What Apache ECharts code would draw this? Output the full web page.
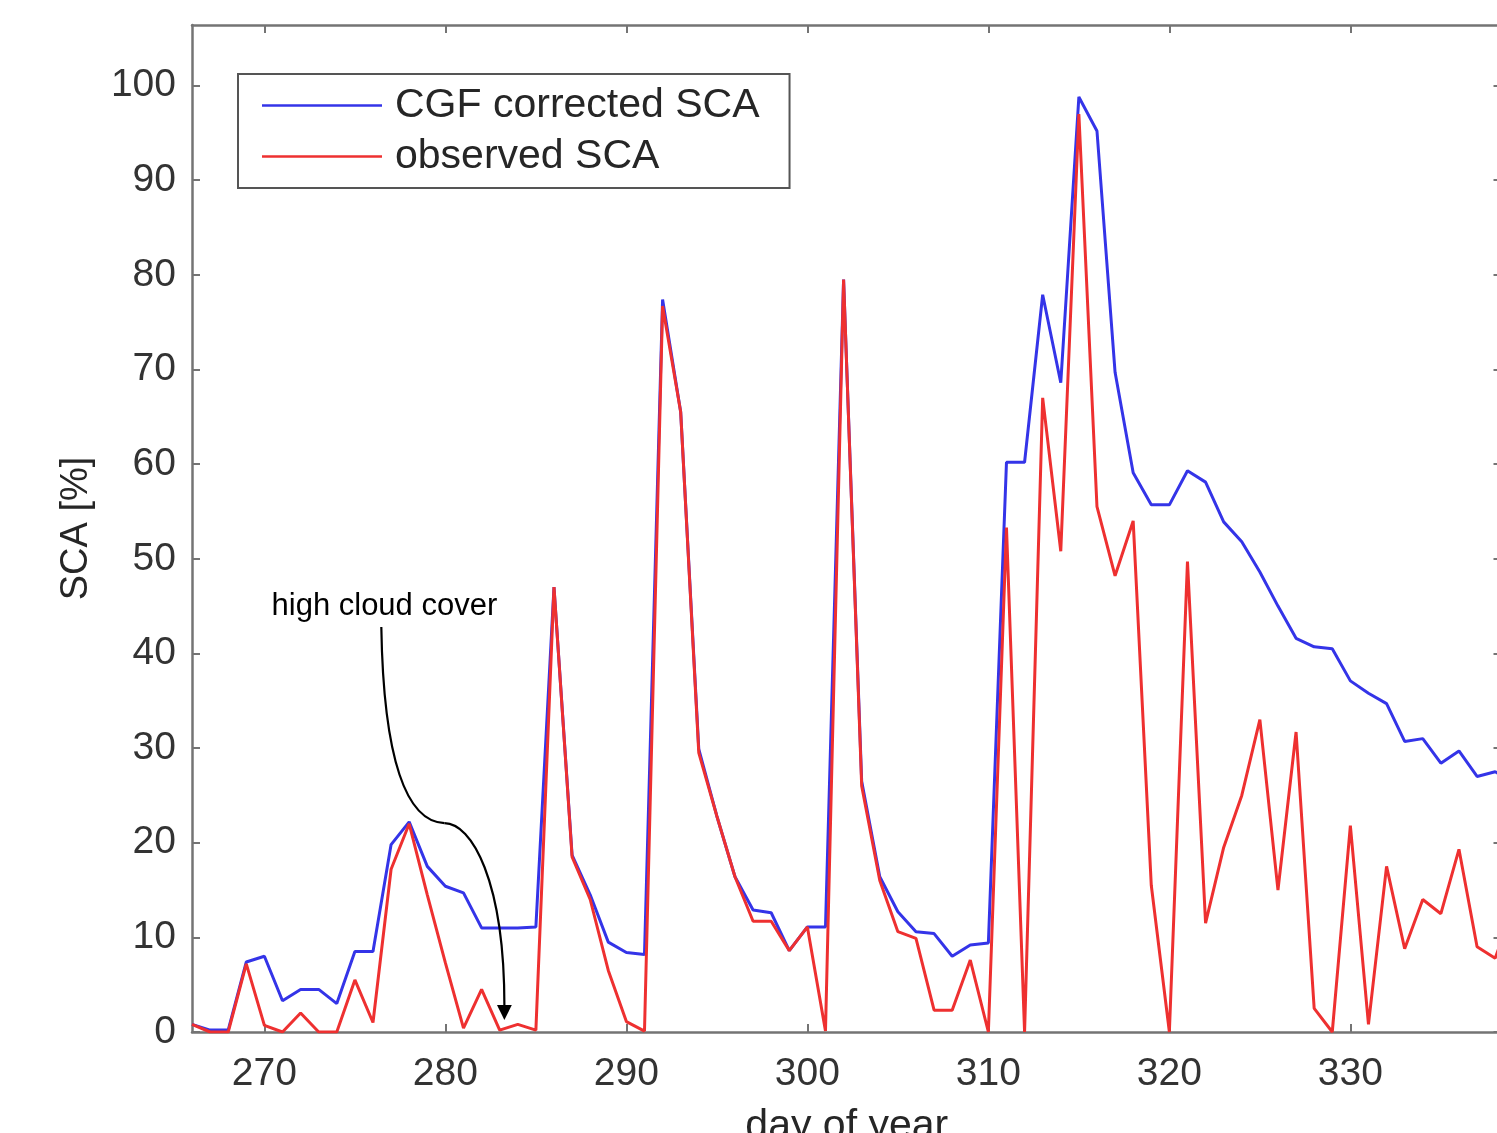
<!DOCTYPE html>
<html>
<head>
<meta charset="utf-8">
<title>SCA</title>
<script src="https://cdn.jsdelivr.net/npm/echarts@6.0.0/dist/echarts.min.js"></script>
<style>
  html, body { margin: 0; padding: 0; background: #fff; }
  #chart { width: 1497px; height: 1133px; }
</style>
</head>
<body>
<div id="chart"></div>
<script>
const days = [
  266, 267, 268, 269, 270, 271, 272, 273, 274, 275, 276, 277, 278, 279, 280, 281, 282, 283, 284, 285,
  286, 287, 288, 289, 290, 291, 292, 293, 294, 295, 296, 297, 298, 299, 300, 301, 302, 303, 304, 305,
  306, 307, 308, 309, 310, 311, 312, 313, 314, 315, 316, 317, 318, 319, 320, 321, 322, 323, 324, 325,
  326, 327, 328, 329, 330, 331, 332, 333, 334, 335, 336, 337, 338, 339
]
const cgfSca = [
  0.8, 0.2, 0.2, 7.4, 8.0, 3.3, 4.5, 4.5, 3.0, 8.5, 8.5, 19.8, 22.2, 17.5, 15.4, 14.7, 11.0, 11.0, 11.0, 11.1,
  47.0, 18.7, 14.5, 9.5, 8.4, 8.2, 77.4, 65.5, 29.9, 22.8, 16.4, 12.9, 12.6, 8.6, 11.1, 11.1, 79.5, 26.5, 16.4, 12.7,
  10.6, 10.4, 8.0, 9.2, 9.4, 60.2, 60.2, 77.9, 68.6, 98.8, 95.2, 69.7, 59.1, 55.7, 55.7, 59.3, 58.1, 53.9, 51.8, 48.6,
  45.0, 41.6, 40.7, 40.5, 37.1, 35.8, 34.7, 30.7, 31.0, 28.4, 29.7, 27.0, 27.5, 26.5
]
const observedSca = [
  0.8, 0, 0, 7.2, 0.7, 0, 2.0, 0, 0, 5.5, 1.0, 17.2, 22.0, 14.5, 7.3, 0.4, 4.5, 0.2, 0.8, 0.2,
  47.0, 18.5, 14.0, 6.5, 1.1, 0.1, 76.7, 65.5, 29.5, 22.8, 16.4, 11.7, 11.7, 8.6, 11.1, 0.1, 79.5, 26.0, 16.0, 10.6,
  9.9, 2.3, 2.3, 7.6, 0, 53.3, 0, 67.0, 50.8, 97.0, 55.5, 48.2, 54.0, 15.5, 0, 49.7, 11.5, 19.5, 25.0, 33.0,
  15.0, 31.7, 2.5, 0, 21.8, 0.8, 17.5, 8.8, 14.0, 12.5, 19.3, 9.0, 7.8, 13.0
]
const xTicks = [270, 280, 290, 300, 310, 320, 330]
const yTicks = [0, 10, 20, 30, 40, 50, 60, 70, 80, 90, 100]

// annotation, in data coordinates (day, SCA)
const noteText = 'high cloud cover'
const noteAt = [276.63, 44.92]
const arrowCurve = [
  [276.46, 42.79], [276.58, 28.74], [277.85, 22.19], [279.95, 22.08],
  [281.44, 22.08], [283.26, 16.06], [283.26, 2.75]
]
const arrowHead = [[283.26, 1.27], [282.85, 2.85], [283.67, 2.85]]

const font = 'Liberation Sans'
const axisColor = '#747474'
const blue = '#3434e8'
const red = '#ee3030'

const tickStyle = (values) => ({
  show: true, inside: true, length: 8, customValues: values,
  lineStyle: { color: axisColor, width: 2 },
})

const baseAxis = (extra) => ({
  type: 'value',
  axisLine: { show: true, onZero: false, lineStyle: { color: axisColor, width: 2.5 } },
  splitLine: { show: false },
  ...extra,
})

const chart = echarts.init(document.getElementById('chart'))

chart.setOption({
  animation: false,
  backgroundColor: '#fff',
  grid: { left: 192, top: 25, bottom: 101, width: 1309.5, outerBoundsMode: 'none', containLabel: false },
  legend: {
    data: ['CGF corrected SCA', 'observed SCA'],
    orient: 'vertical',
    left: 238,
    top: 74,
    icon: 'rect',
    itemWidth: 120,
    itemHeight: 2.5,
    itemGap: 10,
    padding: [11, 30, 11, 24],
    borderColor: '#555',
    borderWidth: 2,
    backgroundColor: '#fff',
    textStyle: { fontFamily: font, fontSize: 41, color: '#262626', lineHeight: 40, padding: [0, 0, 0, 8] },
  },
  xAxis: [
    baseAxis({
      min: 266,
      max: 338.35,
      position: 'bottom',
      name: 'day of year',
      nameLocation: 'middle',
      nameGap: 74,
      nameTextStyle: { fontFamily: font, fontSize: 41, color: '#262626' },
      axisTick: tickStyle(xTicks),
      axisLabel: { customValues: xTicks, margin: 23, fontFamily: font, fontSize: 39, color: '#333' },
    }),
    baseAxis({
      min: 266,
      max: 338.35,
      position: 'top',
      axisTick: tickStyle(xTicks),
      axisLabel: { show: false },
    }),
  ],
  yAxis: [
    baseAxis({
      min: 0,
      max: 106.4,
      position: 'left',
      name: 'SCA [%]',
      nameLocation: 'middle',
      nameGap: 96,
      nameTextStyle: { fontFamily: font, fontSize: 38, color: '#262626' },
      axisTick: tickStyle(yTicks),
      axisLabel: { customValues: yTicks, margin: 16, fontFamily: font, fontSize: 39, color: '#333' },
    }),
    baseAxis({
      min: 0,
      max: 106.4,
      position: 'right',
      axisTick: tickStyle(yTicks),
      axisLabel: { show: false },
    }),
  ],
  series: [
    {
      name: 'CGF corrected SCA',
      type: 'line',
      symbol: 'none',
      clip: true,
      lineStyle: { color: blue, width: 3 },
      itemStyle: { color: blue },
      data: days.map((d, i) => [d, cgfSca[i]]),
    },
    {
      name: 'observed SCA',
      type: 'line',
      symbol: 'none',
      clip: true,
      lineStyle: { color: red, width: 3 },
      itemStyle: { color: red },
      data: days.map((d, i) => [d, observedSca[i]]),
    },
  ],
})

// annotation arrow + text, placed through the axes
const px = (p) => chart.convertToPixel({ xAxisIndex: 0, yAxisIndex: 0 }, p)
const c = arrowCurve.map(px)
const h = arrowHead.map(px)
const t = px(noteAt)

chart.setOption({
  graphic: [
    {
      type: 'bezierCurve',
      shape: { x1: c[0][0], y1: c[0][1], cpx1: c[1][0], cpy1: c[1][1], cpx2: c[2][0], cpy2: c[2][1], x2: c[3][0], y2: c[3][1] },
      style: { stroke: '#000', lineWidth: 2.2, fill: null },
      z: 100,
    },
    {
      type: 'bezierCurve',
      shape: { x1: c[3][0], y1: c[3][1], cpx1: c[4][0], cpy1: c[4][1], cpx2: c[5][0], cpy2: c[5][1], x2: c[6][0], y2: c[6][1] },
      style: { stroke: '#000', lineWidth: 2.2, fill: null },
      z: 100,
    },
    {
      type: 'polygon',
      shape: { points: h },
      style: { fill: '#000' },
      z: 100,
    },
    {
      type: 'text',
      x: t[0],
      y: t[1],
      style: { text: noteText, fontFamily: font, fontSize: 31, fill: '#000', align: 'center', verticalAlign: 'middle' },
      z: 100,
    },
  ],
})
</script>
</body>
</html>
